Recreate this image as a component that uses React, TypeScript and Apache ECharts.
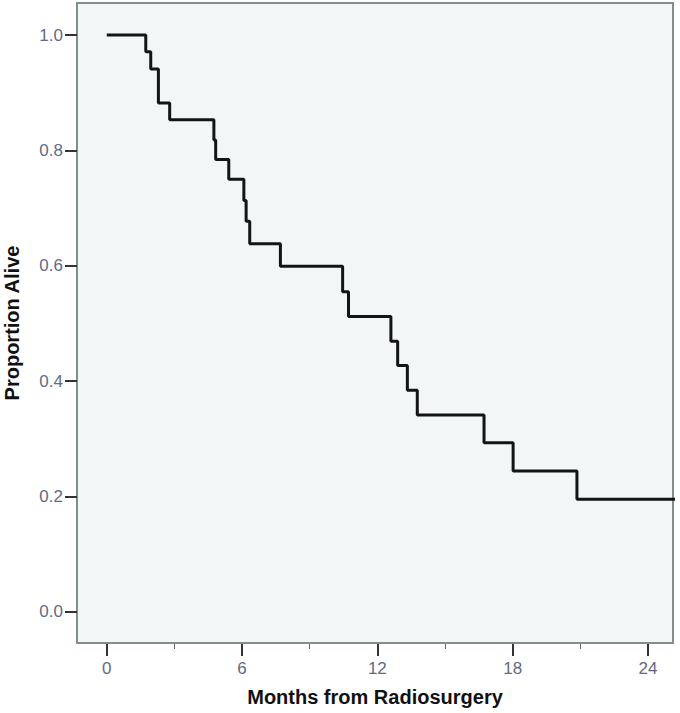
import React, { useEffect, useRef } from "react";
import * as echarts from "echarts";

const months = [0, 1.73, 1.95, 2.29, 2.79, 4.75, 4.83, 5.41, 6.08, 6.18, 6.34, 7.7, 10.46, 10.72, 12.6, 12.9, 13.33, 13.77, 16.73, 18.02, 20.85, 25.2];
const survival = [1, 0.971, 0.941, 0.882, 0.853, 0.818, 0.784, 0.75, 0.713, 0.677, 0.638, 0.599, 0.555, 0.512, 0.469, 0.427, 0.384, 0.341, 0.293, 0.244, 0.195, 0.195];
const xMajorTicks = [0, 6, 12, 18, 24];
const xMinorTicks = [3, 9, 15, 21];
const yTicks = [0, 0.2, 0.4, 0.6, 0.8, 1.0];

const FONT = "'Liberation Sans', Arial, sans-serif";

export default function App() {
  const ref = useRef<HTMLDivElement>(null);
  useEffect(() => {
    if (!ref.current) return;
    const chart = echarts.init(ref.current, undefined, { renderer: "svg" });
    const xMin = -1.32;
    const xMax = 25.11;
    chart.setOption({
      animation: false,
      grid: {
        left: 77,
        top: 3,
        right: 7,
        bottom: 70,
        outerBoundsMode: "none",
        containLabel: false,
        show: true,
        backgroundColor: "#f2f6f7",
        borderColor: "#7f8f8e",
        borderWidth: 2,
      },
      xAxis: [
        {
          type: "value",
          min: xMin,
          max: xMax,
          position: "bottom",
          offset: 1,
          axisLine: { show: false, onZero: false },
          splitLine: { show: false },
          axisTick: {
            show: true,
            length: 12,
            customValues: xMajorTicks,
            lineStyle: { color: "#333", width: 2 },
          },
          axisLabel: {
            customValues: xMajorTicks,
            margin: 16,
            fontSize: 17,
            fontFamily: FONT,
            color: "#636a80",
          },
          name: "Months from Radiosurgery",
          nameLocation: "middle",
          nameGap: 43,
          nameTextStyle: {
            fontSize: 20,
            fontWeight: "bold",
            fontFamily: FONT,
            color: "#111",
          },
        },
        {
          type: "value",
          min: xMin,
          max: xMax,
          position: "bottom",
          offset: 1,
          axisLine: { show: false, onZero: false },
          splitLine: { show: false },
          axisTick: {
            show: true,
            length: 5,
            customValues: xMinorTicks,
            lineStyle: { color: "#666", width: 1 },
          },
          axisLabel: { show: false },
        },
      ],
      yAxis: {
        type: "value",
        min: -0.0543,
        max: 1.0555,
        axisLine: { show: false, onZero: false },
        splitLine: { show: false },
        axisTick: {
          show: true,
          length: 12,
          customValues: yTicks,
          lineStyle: { color: "#333", width: 2 },
        },
        axisLabel: {
          customValues: yTicks,
          margin: 14,
          fontSize: 17,
          fontFamily: FONT,
          color: "#636a85",
          formatter: (v: number) => v.toFixed(1),
        },
        name: "Proportion Alive",
        nameLocation: "middle",
        nameGap: 55,
        nameTextStyle: {
          fontSize: 20,
          fontWeight: "bold",
          fontFamily: FONT,
          color: "#111",
        },
      },
      series: [
        {
          type: "line",
          step: "end",
          xAxisIndex: 0,
          data: months.map((m, i) => [m, survival[i]]),
          showSymbol: false,
          symbol: "none",
          clip: true,
          lineStyle: { color: "#141414", width: 3 },
        },
      ],
    });
    return () => chart.dispose();
  }, []);
  return (
    <div
      ref={ref}
      style={{ position: "fixed", left: 0, top: 0, width: 680, height: 713, background: "#fff" }}
    />
  );
}
